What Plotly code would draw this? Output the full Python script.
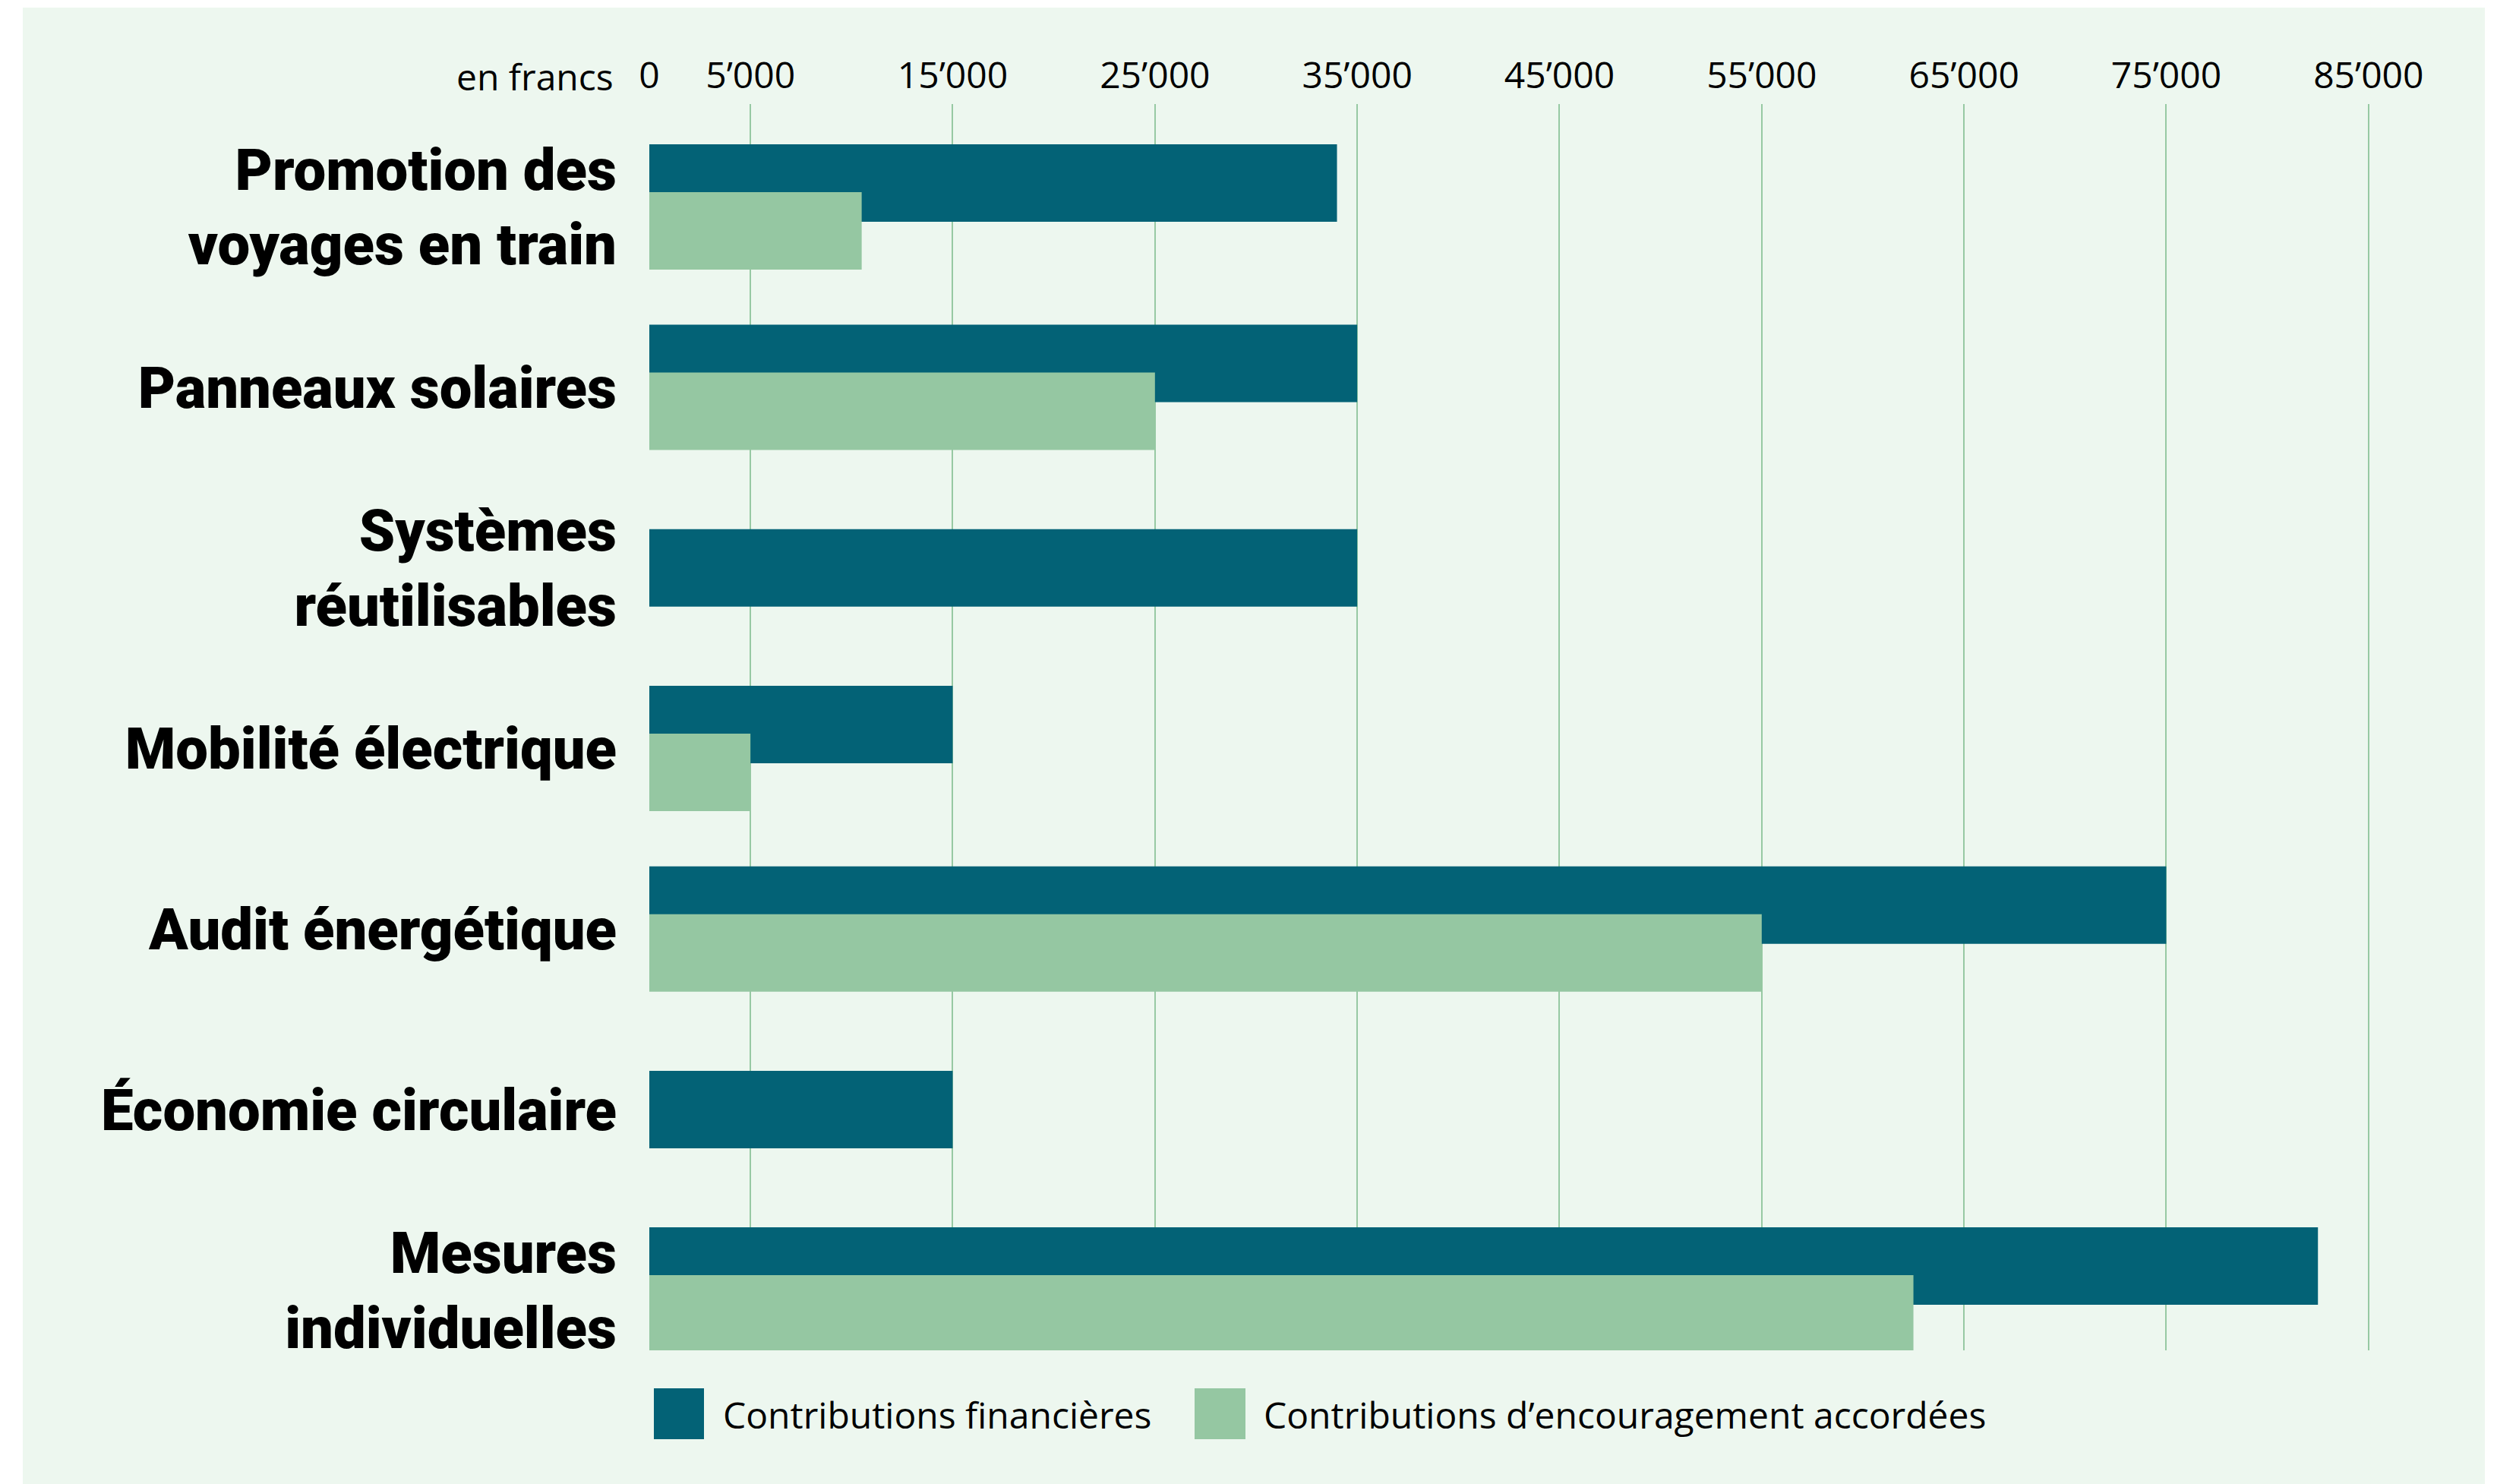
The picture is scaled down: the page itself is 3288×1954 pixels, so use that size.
import plotly.graph_objects as go

# ---------------- data ----------------
categories = [
    "Promotion des<br>voyages en train",
    "Panneaux solaires",
    "Systèmes<br>réutilisables",
    "Mobilité électrique",
    "Audit énergétique",
    "Économie circulaire",
    "Mesures<br>individuelles",
]
contrib_financieres = [34000, 35000, 35000, 15000, 75000, 15000, 82500]
contrib_encouragement = [10500, 25000, None, 5000, 55000, None, 62500]
tick_values = [0, 5000, 15000, 25000, 35000, 45000, 55000, 65000, 75000, 85000]
tick_labels = ["0", "5’000", "15’000", "25’000", "35’000", "45’000",
               "55’000", "65’000", "75’000", "85’000"]
series_names = ["Contributions financières", "Contributions d’encouragement accordées"]

# ---------------- style ----------------
DARK = "#036276"
LIGHT = "#95c7a2"
GRID = "#97c9a3"
BG = "#edf7ef"
W, H = 3288, 1954
ML, MR, MT, MB = 855, 88, 137, 176
PW, PH = W - ML - MR, H - MT - MB
PX_PER_1000 = 26.633
CAT_PX = 237.7          # pixel distance between categories
FIRST_CENTER = 272.4    # pixel y of first category centre
LAST_CENTER = FIRST_CENTER + 6 * CAT_PX
BAR_PX = 102            # bar thickness in px

bar_w = BAR_PX / CAT_PX
off_dark_pair = -82.5 / CAT_PX
off_light = -19.5 / CAT_PX
off_single = -BAR_PX / 2 / CAT_PX


def px_x(p):
    return (p - ML) / PW


def px_y(p):
    return (H - MB - p) / PH


idx = list(range(len(categories)))
dark_offsets = [off_dark_pair if v is not None else off_single for v in contrib_encouragement]

fig = go.Figure()
fig.add_trace(go.Bar(
    y=idx, x=contrib_financieres, orientation="h", name=series_names[0],
    marker=dict(color=DARK, line=dict(width=0)),
    width=bar_w, offset=dark_offsets, showlegend=False,
))
fig.add_trace(go.Bar(
    y=idx, x=contrib_encouragement, orientation="h", name=series_names[1],
    marker=dict(color=LIGHT, line=dict(width=0)),
    width=bar_w, offset=off_light, showlegend=False,
))

xmax = PW / PX_PER_1000 * 1000
top_units = (FIRST_CENTER - MT) / CAT_PX
bottom_units = (H - MB - LAST_CENTER) / CAT_PX

fig.update_xaxes(
    range=[0, xmax], side="top", tickvals=tick_values, ticktext=tick_labels,
    showgrid=True, gridcolor=GRID, gridwidth=2, zeroline=False, showline=False,
    ticks="", tickfont=dict(family="Open Sans", size=48, color="black"),
    ticklabelstandoff=10,
)
fig.update_yaxes(
    range=[len(categories) - 1 + bottom_units, -top_units],
    tickvals=idx, ticktext=categories, showgrid=False, zeroline=False,
    showline=False, ticks="",
    tickfont=dict(family="Roboto", size=76, color="black", weight=900),
    ticklabelstandoff=42,
)

shapes = [
    dict(type="rect", xref="paper", yref="paper", layer="below",
         x0=px_x(30), x1=px_x(3272), y0=px_y(H + 5), y1=px_y(10),
         fillcolor=BG, line=dict(width=0)),
    dict(type="rect", xref="paper", yref="paper",
         x0=px_x(861), x1=px_x(927), y0=px_y(1895), y1=px_y(1828),
         fillcolor=DARK, line=dict(width=0)),
    dict(type="rect", xref="paper", yref="paper",
         x0=px_x(1573), x1=px_x(1640), y0=px_y(1895), y1=px_y(1828),
         fillcolor=LIGHT, line=dict(width=0)),
]

annotations = [
    dict(text="en francs", xref="paper", yref="paper", x=px_x(810), y=px_y(101),
         xanchor="right", yanchor="middle", showarrow=False,
         font=dict(family="Open Sans", size=48, color="black")),
    dict(text=series_names[0], xref="paper", yref="paper", x=px_x(950), y=px_y(1862),
         xanchor="left", yanchor="middle", showarrow=False,
         font=dict(family="Open Sans", size=48, color="black")),
    dict(text=series_names[1], xref="paper", yref="paper", x=px_x(1662), y=px_y(1862),
         xanchor="left", yanchor="middle", showarrow=False,
         font=dict(family="Open Sans", size=48, color="black")),
]

fig.update_layout(
    width=W, height=H, barmode="overlay",
    margin=dict(l=ML, r=MR, t=MT, b=MB, pad=0),
    paper_bgcolor="white", plot_bgcolor="rgba(0,0,0,0)",
    shapes=shapes, annotations=annotations, showlegend=False,
)

fig.write_html("out.html")
